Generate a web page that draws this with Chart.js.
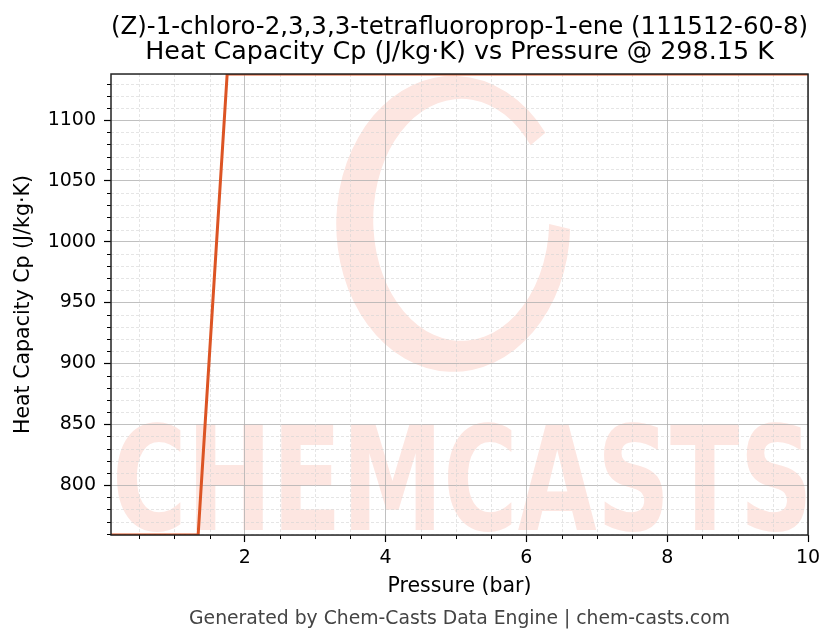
<!DOCTYPE html>
<html lang="en">
<head>
  <meta charset="UTF-8">
  <title>Heat Capacity Cp vs Pressure</title>
  <script src="https://cdn.jsdelivr.net/npm/chart.js"></script>
  <style>
    body {
      margin: 0;
      padding: 0;
      background: #ffffff;
    }
    canvas {
      display: block;
    }
  </style>
</head>
<body>
  <canvas id="cpChart" width="836" height="644"></canvas>
  <script>
    // Pressure (bar) and heat capacity (J/kg·K)
    const PRESSURE = [0.1, 0.5125, 0.925, 1.3375, 1.75, 2.1625, 2.575, 2.9875, 3.4, 3.8125,
      4.225, 4.6375, 5.05, 5.4625, 5.875, 6.2875, 6.7, 7.1125, 7.525, 7.9375,
      8.35, 8.7625, 9.175, 9.5875, 10.0];
    const CP = [758.9, 758.9, 758.9, 758.9, 1137.8, 1137.8, 1137.8, 1137.8, 1137.8, 1137.8,
      1137.8, 1137.8, 1137.8, 1137.8, 1137.8, 1137.8, 1137.8, 1137.8, 1137.8, 1137.8,
      1137.8, 1137.8, 1137.8, 1137.8, 1137.8];

    const X_TICKS = [2, 4, 6, 8, 10];
    const Y_TICKS = [800, 850, 900, 950, 1000, 1050, 1100];
    const X_RANGE = [0.1, 10];
    const Y_RANGE = [758.9, 1137.8];
    const X_MINOR_STEP = 0.5;
    const Y_MINOR_STEP = 10;

    const TITLE_LINES = [
      '(Z)-1-chloro-2,3,3,3-tetrafluoroprop-1-ene (111512-60-8)',
      'Heat Capacity Cp (J/kg·K) vs Pressure @ 298.15 K'
    ];
    const FOOTER = 'Generated by Chem-Casts Data Engine | chem-casts.com';

    const FONT = '"DejaVu Sans", Arial, sans-serif';
    const LINE_COLOR = '#dc5424';

    // faint CHEMCASTS watermark behind the grid
    const watermark = {
      id: 'watermark',
      beforeDraw(chart) {
        const { ctx, chartArea: a } = chart;
        const w = a.right - a.left;
        const h = a.bottom - a.top;
        ctx.save();
        ctx.beginPath();
        ctx.rect(a.left, a.top, w, h);
        ctx.clip();
        ctx.fillStyle = '#fde6e1';

        // brush ring
        const cx = a.left + 0.491 * w, cy = a.top + 0.325 * h;
        const a0 = 2 * Math.PI / 180, a1 = 322 * Math.PI / 180;
        ctx.beginPath();
        ctx.ellipse(cx, cy, 117, 148, 0, a0, a1, false);
        ctx.ellipse(cx + 8, cy - 4, 88, 121, 0, a1, a0, true);
        ctx.closePath();
        ctx.fill();

        // lettering
        ctx.font = 'bold 144px ' + FONT;
        ctx.textBaseline = 'alphabetic';
        const text = 'CHEMCASTS';
        const tw = ctx.measureText(text).width;
        const sx = (w + 4) / tw;
        ctx.translate(a.left + 1, a.bottom - 5);
        ctx.scale(sx, 1);
        ctx.fillText(text, 0, 0);
        ctx.restore();
      }
    };

    // dashed minor grid, minor tick marks and the box around the plot
    const minorGrid = {
      id: 'minorGrid',
      beforeDatasetsDraw(chart) {
        const { ctx, chartArea: a, scales } = chart;
        const xs = scales.x, ys = scales.y;
        ctx.save();
        ctx.lineWidth = 0.6;
        ctx.strokeStyle = '#d4d4d4';
        ctx.setLineDash([3, 2]);
        const xMinor = [];
        for (let v = X_MINOR_STEP; v <= X_RANGE[1] + 1e-9; v += X_MINOR_STEP) {
          if (v >= X_RANGE[0] && !X_TICKS.some(t => Math.abs(t - v) < 1e-6)) xMinor.push(v);
        }
        const yMinor = [];
        for (let v = Math.ceil(Y_RANGE[0] / Y_MINOR_STEP) * Y_MINOR_STEP; v <= Y_RANGE[1]; v += Y_MINOR_STEP) {
          if (!Y_TICKS.includes(v)) yMinor.push(v);
        }
        xMinor.forEach(v => {
          const px = Math.round(xs.getPixelForValue(v)) + 0.5;
          ctx.beginPath(); ctx.moveTo(px, a.top); ctx.lineTo(px, a.bottom); ctx.stroke();
        });
        yMinor.forEach(v => {
          const py = Math.round(ys.getPixelForValue(v)) + 0.5;
          ctx.beginPath(); ctx.moveTo(a.left, py); ctx.lineTo(a.right, py); ctx.stroke();
        });
        ctx.setLineDash([]);
        ctx.strokeStyle = '#000';
        ctx.lineWidth = 1;
        xMinor.forEach(v => {
          const px = Math.round(xs.getPixelForValue(v)) + 0.5;
          ctx.beginPath(); ctx.moveTo(px, a.bottom); ctx.lineTo(px, a.bottom + 4); ctx.stroke();
        });
        yMinor.forEach(v => {
          const py = Math.round(ys.getPixelForValue(v)) + 0.5;
          ctx.beginPath(); ctx.moveTo(a.left, py); ctx.lineTo(a.left - 4, py); ctx.stroke();
        });
        ctx.restore();
      },
      afterDraw(chart) {
        const { ctx, chartArea: a } = chart;
        ctx.save();
        ctx.strokeStyle = '#222';
        ctx.lineWidth = 1.5;
        ctx.strokeRect(a.left, a.top, a.right - a.left, a.bottom - a.top);
        ctx.restore();
      }
    };

    function fixTicks(values) {
      return (scale) => {
        scale.ticks = values.map(v => ({ value: v }));
      };
    }

    const chart = new Chart(document.getElementById('cpChart'), {
      type: 'line',
      data: {
        datasets: [{
          data: PRESSURE.map((p, i) => ({ x: p, y: CP[i] })),
          borderColor: LINE_COLOR,
          borderWidth: 3,
          pointRadius: 0,
          tension: 0,
          fill: false
        }]
      },
      options: {
        responsive: false,
        animation: false,
        events: [],
        layout: { padding: { top: 0, left: 0, right: 28, bottom: 0 } },
        plugins: {
          legend: { display: false },
          tooltip: { enabled: false },
          title: {
            display: true,
            text: TITLE_LINES,
            color: '#000',
            fullSize: false,
            font: { family: FONT, size: 25.4, weight: 'normal', lineHeight: 1.02 },
            padding: { top: 14, bottom: 8.2 }
          },
          subtitle: {
            display: true,
            position: 'bottom',
            text: FOOTER,
            color: '#444',
            fullSize: false,
            font: { family: FONT, size: 18.8, weight: 'normal', lineHeight: 1.2 },
            padding: { top: 0, bottom: 13.7 }
          }
        },
        scales: {
          x: {
            type: 'linear',
            min: X_RANGE[0],
            max: X_RANGE[1],
            afterBuildTicks: fixTicks(X_TICKS),
            afterFit: (s) => { s.height = 72.7; },
            border: { display: false },
            grid: { color: '#b0b0b0', lineWidth: 0.8, tickLength: 7, tickColor: '#000', tickWidth: 1.2 },
            ticks: {
              color: '#000', font: { family: FONT, size: 19 }, padding: 5, autoSkip: false, maxRotation: 0,
              callback: (v) => String(v)
            },
            title: {
              display: true,
              text: 'Pressure (bar)',
              color: '#000',
              font: { family: FONT, size: 20.5 },
              padding: { top: 0, bottom: 8.3 }
            }
          },
          y: {
            min: Y_RANGE[0],
            max: Y_RANGE[1],
            afterBuildTicks: fixTicks(Y_TICKS),
            afterFit: (s) => { s.width = 111; },
            border: { display: false },
            grid: { color: '#b0b0b0', lineWidth: 0.8, tickLength: 7, tickColor: '#000', tickWidth: 1.2 },
            ticks: {
              color: '#000', font: { family: FONT, size: 19 }, padding: 8, autoSkip: false,
              callback: (v) => String(v)
            },
            title: {
              display: true,
              text: 'Heat Capacity Cp (J/kg·K)',
              color: '#000',
              font: { family: FONT, size: 20.5 },
              padding: { top: 11.7, bottom: 0 }
            }
          }
        }
      },
      plugins: [watermark, minorGrid]
    });
  </script>
</body>
</html>
